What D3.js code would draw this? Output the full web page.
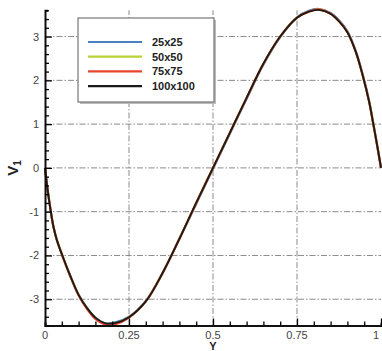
<!DOCTYPE html>
<html>
<head>
<meta charset="utf-8">
<script src="https://cdn.jsdelivr.net/npm/d3@7"></script>
<style>
  body { margin: 0; background: #fff; }
  svg { display: block; font-family: "Liberation Sans", Arial, sans-serif; }
</style>
</head>
<body>
<div class="graph"></div>
<script>
// sample positions along Y
var yPos = [0, 0.005, 0.01, 0.017, 0.025, 0.035, 0.053, 0.075, 0.1, 0.125, 0.15, 0.18, 0.21, 0.25, 0.3, 0.35, 0.4, 0.45, 0.5,
            0.55, 0.6, 0.65, 0.7, 0.75, 0.785, 0.815, 0.85, 0.875, 0.9, 0.925, 0.946, 0.965, 0.976, 0.99, 1.0]

var v25 = [0, -0.33, -0.62, -0.98, -1.34, -1.64, -2.03, -2.46, -2.9, -3.2, -3.42, -3.55, -3.53, -3.4, -3.04, -2.4, -1.62, -0.82, -0.02,
           0.78, 1.58, 2.36, 2.99, 3.44, 3.59, 3.63, 3.54, 3.37, 3.12, 2.67, 2.12, 1.52, 1.06, 0.45, 0]
var v50 = [0, -0.33, -0.62, -0.98, -1.34, -1.64, -2.03, -2.46, -2.9, -3.2, -3.43, -3.56, -3.55, -3.41, -3.05, -2.4, -1.62, -0.8, 0,
           0.8, 1.6, 2.38, 3.0, 3.43, 3.57, 3.62, 3.52, 3.35, 3.1, 2.65, 2.1, 1.5, 1.05, 0.45, 0]
var v75 = [0, -0.33, -0.62, -0.98, -1.34, -1.64, -2.03, -2.47, -2.91, -3.22, -3.45, -3.58, -3.57, -3.42, -3.05, -2.4, -1.62, -0.8, 0,
           0.8, 1.6, 2.38, 3.0, 3.43, 3.57, 3.62, 3.52, 3.35, 3.1, 2.65, 2.1, 1.5, 1.05, 0.45, 0]
var v100 = [0, -0.33, -0.62, -0.98, -1.34, -1.64, -2.03, -2.46, -2.9, -3.2, -3.42, -3.55, -3.54, -3.41, -3.05, -2.4, -1.62, -0.8, 0,
            0.8, 1.6, 2.38, 3.0, 3.43, 3.57, 3.61, 3.52, 3.35, 3.1, 2.65, 2.1, 1.5, 1.05, 0.45, 0]

var seriesNames = ['25x25', '50x50', '75x75', '100x100']
var seriesColors = ['#4a7fc0', '#b8d234', '#e8442c', '#1a1a1a']
var seriesValues = [v25, v50, v75, v100]

var xTicks = [0, 0.25, 0.5, 0.75, 1]
var xTickLabels = ['0', '0.25', '0.5', '0.75', '1']
var yTicks = [-3, -2, -1, 0, 1, 2, 3]

var width = 382,
    height = 351

var x = d3.scaleLinear()
    .domain([0, 1])
    .range([45, 381])

var y = d3.scaleLinear()
    .domain([-3.6, 3.6])
    .range([325.5, 10.3])

var svg = d3.select('.graph').append('svg')
    .attr('width', width)
    .attr('height', height)

// dash-dot grid
var grid = svg.append('g')
    .attr('stroke', '#8a8a8a')
    .attr('stroke-width', 1)
    .attr('stroke-dasharray', '6,2,1.5,2')
grid.selectAll('.hg').data(yTicks).enter().append('line')
    .attr('x1', x(0)).attr('x2', x(1))
    .attr('y1', d => y(d)).attr('y2', d => y(d))
grid.selectAll('.vg').data([0.25, 0.5, 0.75]).enter().append('line')
    .attr('y1', y(-3.6)).attr('y2', y(3.6))
    .attr('x1', d => x(d)).attr('x2', d => x(d))

// curves
var line = d3.line()
    .x((d, i) => x(yPos[i]))
    .y(d => y(d))
    .curve(d3.curveCatmullRom.alpha(0.5))

var paths = svg.append('g')
seriesValues.forEach(function(vals, k) {
    paths.append('path')
        .datum(vals)
        .attr('fill', 'none')
        .attr('stroke', seriesColors[k])
        .attr('stroke-width', k == 3 ? 1.8 : 2.2)
        .attr('d', line)
})

// axes, ticks pointing inward
var xAxis = d3.axisTop(x)
    .tickValues(d3.range(0, 1.0001, 0.05))
    .tickSize(3)
    .tickFormat('')
var xg = svg.append('g')
    .attr('transform', `translate(0,${y(-3.6)})`)
    .call(xAxis)
xg.selectAll('.tick line')
    .attr('y2', d => (Math.round(d * 100) % 25 == 0) ? -7 : -4)
    .attr('stroke-width', 1.3)

var yAxis = d3.axisRight(y)
    .tickValues(d3.range(-3.6, 3.6001, 0.2))
    .tickSize(3)
    .tickFormat('')
var yg = svg.append('g')
    .attr('transform', `translate(${x(0)},0)`)
    .call(yAxis)
yg.selectAll('.tick line')
    .attr('x2', d => (Math.abs(d - Math.round(d)) < 1e-6) ? 7 : 4)
    .attr('stroke-width', 1.3)

svg.selectAll('.domain')
    .attr('stroke', '#111')
    .attr('stroke-width', 2)

// tick labels
svg.append('g').selectAll('text').data(xTicks).enter().append('text')
    .attr('x', (d, i) => i == 4 ? x(d) - 2 : x(d))
    .attr('y', 339)
    .attr('text-anchor', (d, i) => i == 4 ? 'end' : 'middle')
    .attr('font-size', 11)
    .attr('fill', '#444')
    .text((d, i) => xTickLabels[i])

svg.append('g').selectAll('text').data(yTicks).enter().append('text')
    .attr('x', 39)
    .attr('y', d => y(d) + 4)
    .attr('text-anchor', 'end')
    .attr('font-size', 11)
    .attr('fill', '#444')
    .text(d => d)

// axis titles
svg.append('text')
    .attr('x', x(0.5))
    .attr('y', 350)
    .attr('text-anchor', 'middle')
    .attr('font-size', 11)
    .attr('font-weight', 'bold')
    .attr('fill', '#222')
    .text('Y')

var vt = svg.append('text')
    .attr('transform', `translate(18,${y(0)}) rotate(-90)`)
    .attr('text-anchor', 'middle')
    .attr('font-size', 15)
    .attr('font-weight', 'bold')
    .attr('fill', '#222')
vt.append('tspan').text('V')
vt.append('tspan').attr('font-size', 10).attr('dy', 3).text('1')

// legend
var lg = svg.append('g')
lg.append('rect')
    .attr('x', 80).attr('y', 20)
    .attr('width', 136).attr('height', 84)
    .attr('fill', '#bbb')
lg.append('rect')
    .attr('x', 78).attr('y', 18)
    .attr('width', 136).attr('height', 84)
    .attr('fill', '#fff')
    .attr('stroke', '#777')
    .attr('stroke-width', 1.2)
seriesNames.forEach(function(name, k) {
    var ly = 42 + k * 14.7
    lg.append('line')
        .attr('x1', 88).attr('x2', 142)
        .attr('y1', ly).attr('y2', ly)
        .attr('stroke', seriesColors[k])
        .attr('stroke-width', 2.2)
    lg.append('text')
        .attr('x', 152).attr('y', ly + 4)
        .attr('font-size', 11)
        .attr('font-weight', 'bold')
        .attr('fill', '#222')
        .text(name)
})
</script>
</body>
</html>
